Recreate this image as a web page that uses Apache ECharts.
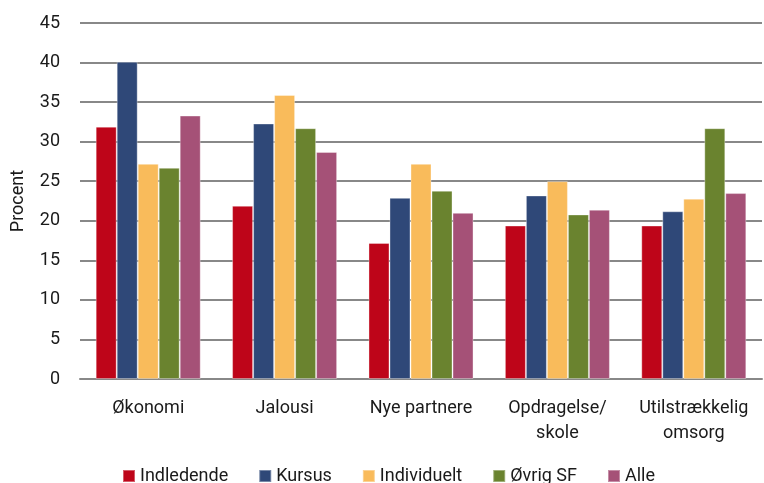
<!DOCTYPE html>
<html>
<head>
<meta charset="utf-8">
<script src="https://cdn.jsdelivr.net/npm/echarts@6/dist/echarts.min.js"></script>
<style>
  html, body { margin: 0; padding: 0; background: #fff; }
  #chart { width: 764px; height: 483px; }
</style>
</head>
<body>
<div id="chart"></div>
<script>
var categories = ['Økonomi', 'Jalousi', 'Nye partnere', 'Opdragelse/\nskole', 'Utilstrækkelig\nomsorg']
var indledende = [31.9, 21.9, 17.2, 19.4, 19.4]
var kursus = [40.1, 32.3, 22.9, 23.2, 21.2]
var individuelt = [27.2, 35.9, 27.2, 25.0, 22.8]
var oevrigSF = [26.7, 31.7, 23.8, 20.8, 31.7]
var alle = [33.3, 28.7, 21.0, 21.4, 23.5]

var font = 'Roboto'
var chart = echarts.init(document.getElementById('chart'))

function bar(name, data, color) {
  return {
    name: name,
    type: 'bar',
    data: data,
    barGap: '0%',
    barCategoryGap: '23%',
    itemStyle: {
      color: color,
      borderColor: 'rgba(255,255,255,0.35)',
      borderWidth: 1
    }
  }
}

chart.setOption({
  animation: false,
  textStyle: { fontFamily: font },
  grid: {
    left: 80,
    right: 2,
    top: 23,
    bottom: 104,
    outerBoundsMode: 'none'
  },
  legend: {
    top: 462,
    left: 117,
    itemWidth: 12,
    itemHeight: 12,
    itemGap: 30,
    icon: 'rect',
    textStyle: { fontSize: 18, color: '#1a1a1a', fontFamily: font }
  },
  xAxis: {
    type: 'category',
    data: categories,
    axisTick: { show: false },
    axisLine: { lineStyle: { color: '#888', width: 2 } },
    axisLabel: {
      fontSize: 18,
      color: '#1a1a1a',
      margin: 17,
      lineHeight: 25,
      interval: 0
    }
  },
  yAxis: {
    type: 'value',
    min: 0,
    max: 45,
    interval: 5,
    name: 'Procent',
    nameLocation: 'middle',
    nameGap: 53,
    nameTextStyle: { fontSize: 18, color: '#1a1a1a' },
    axisLine: { show: false },
    axisTick: { show: false },
    axisLabel: { fontSize: 18, color: '#1a1a1a', margin: 20 },
    splitLine: { lineStyle: { color: '#888', width: 2 } }
  },
  series: [
    bar('Indledende', indledende, '#BE0519'),
    bar('Kursus', kursus, '#2F4878'),
    bar('Individuelt', individuelt, '#F9BB5B'),
    bar('Øvrig SF', oevrigSF, '#6A832F'),
    bar('Alle', alle, '#A55177')
  ]
})
</script>
</body>
</html>
